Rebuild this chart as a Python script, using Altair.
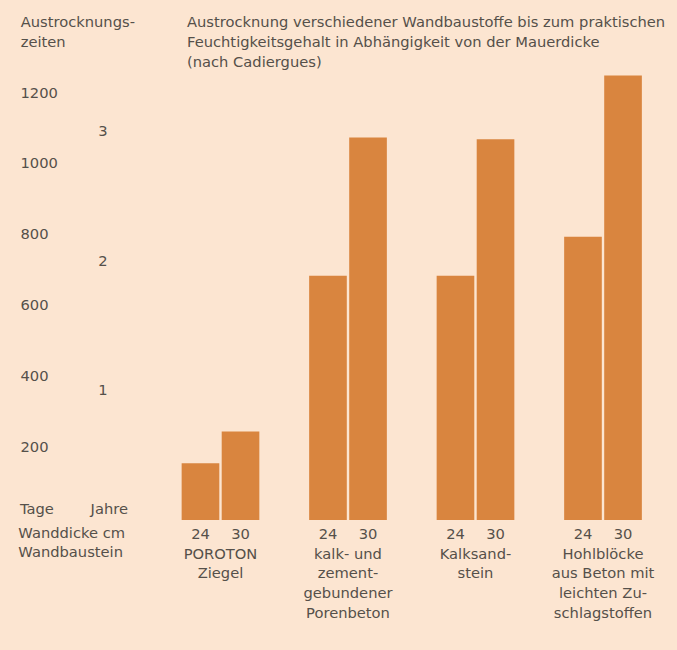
import altair as alt
import pandas as pd

# Drying times (days) per wall material and wall thickness (cm)
materials = [
    "POROTON|Ziegel",
    "kalk- und|zement-|gebundener|Porenbeton",
    "Kalksand-|stein",
    "Hohlblöcke|aus Beton mit|leichten Zu-|schlagstoffen",
]
thickness = ["24", "30"]
days_24 = [160, 690, 690, 800]
days_30 = [250, 1080, 1075, 1255]

day_ticks = [200, 400, 600, 800, 1000, 1200]
years = [1, 2, 3]

title_lines = [
    "Austrocknung verschiedener Wandbaustoffe bis zum praktischen",
    "Feuchtigkeitsgehalt in Abhängigkeit von der Mauerdicke",
    "(nach Cadiergues)",
]

rows = []
for m, a, b in zip(materials, days_24, days_30):
    rows.append({"material": m, "dicke": thickness[0], "tage": a})
    rows.append({"material": m, "dicke": thickness[1], "tage": b})
df = pd.DataFrame(rows)
df_years = pd.DataFrame({"jahre": years})

FONT = "DejaVu Sans"
INK = "#55504a"
BAR = "#d9853f"
BG = "#fce5d1"
FS = 14.7

W, H = 523.5, 449
LEFT, TOP = 150, 71

x_enc = alt.X(
    "material:N",
    sort=materials,
    scale=alt.Scale(paddingInner=0.3906, paddingOuter=0.2482),
    axis=alt.Axis(
        title=None, domain=False, ticks=False, tickSize=0, grid=False,
        labelAngle=0, labelExpr="split(datum.label, '|')",
        labelFont=FONT, labelFontSize=FS, labelColor=INK,
        labelPadding=26, labelLineHeight=19.8, labelLimit=300,
        labelOverlap=False,
    ),
)
xo_enc = alt.XOffset(
    "dicke:N", sort=thickness,
    scale=alt.Scale(paddingInner=0.06, paddingOuter=0),
)
y_scale = alt.Scale(domain=[0, 1268], nice=False, zero=True)
y_axis = alt.Axis(
    title=None, values=day_ticks, format="d", domain=False, ticks=False,
    tickSize=0, grid=False, labelAlign="left", labelPadding=130,
    labelOffset=-2, labelFont=FONT, labelFontSize=FS, labelColor=INK,
)

bars = alt.Chart(df).mark_bar(color=BAR).encode(
    x=x_enc,
    xOffset=xo_enc,
    y=alt.Y("tage:Q", scale=y_scale, axis=y_axis),
)

dicke_labels = alt.Chart(df).mark_text(
    font=FONT, fontSize=FS, color=INK, baseline="middle", align="center"
).encode(
    x=x_enc,
    xOffset=xo_enc,
    y=alt.value(464),
    text="dicke:N",
)

year_labels = alt.Chart(df_years).transform_calculate(
    tage="datum.jahre * 365"
).mark_text(
    font=FONT, fontSize=FS, color=INK, baseline="middle", align="center"
).encode(
    x=alt.value(-47),
    y=alt.Y("tage:Q", scale=y_scale, axis=y_axis),
    text="jahre:Q",
)


def note(text, x, y, align="left"):
    return alt.Chart(alt.Data(values=[{}])).mark_text(
        font=FONT, fontSize=FS, color=INK, baseline="middle", align=align
    ).encode(x=alt.value(x), y=alt.value(y), text=alt.value(text))


notes = [
    note(title_lines[0], 37, -48.3),
    note(title_lines[1], 37, -28.3),
    note(title_lines[2], 37, -8),
    note("Austrocknungs-", -129.3, -48.3),
    note("zeiten", -129.3, -28.3),
    note("Tage", -130, 439),
    note("Jahre", -22, 439, align="right"),
    note("Wanddicke cm", -131.7, 463),
    note("Wandbaustein", -131.7, 482.3),
]

chart = alt.layer(bars, dicke_labels, year_labels, *notes).properties(
    width=W,
    height=H,
    padding={"left": LEFT, "top": TOP, "right": 677 - LEFT - W, "bottom": 650 - TOP - H},
    autosize=alt.AutoSizeParams(type="none"),
    background=BG,
).configure_view(stroke=None)

chart.save("out.html", embed_options={"renderer": "svg", "actions": False})
